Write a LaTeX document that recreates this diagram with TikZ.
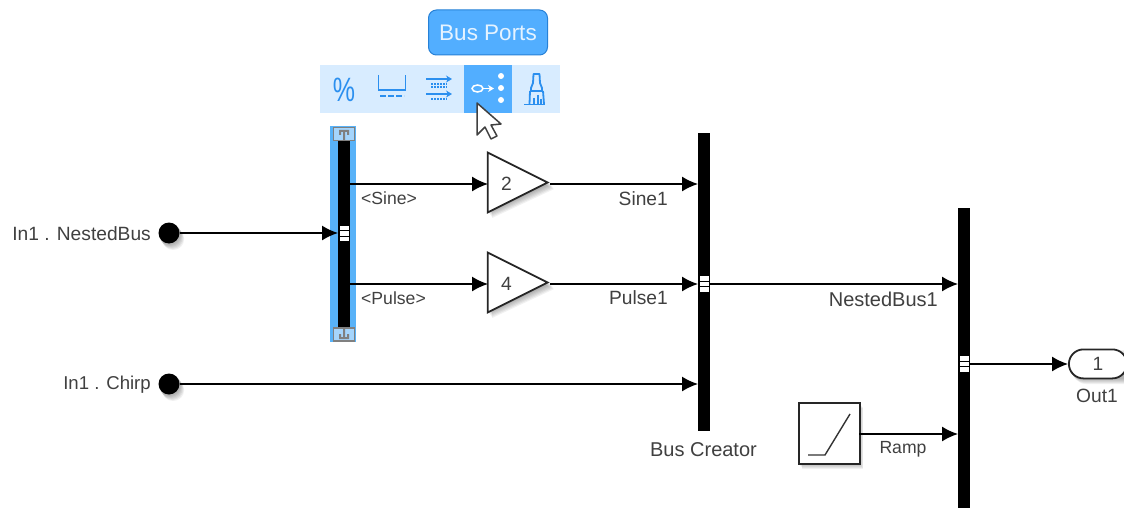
\documentclass[tikz,border=0pt]{standalone}
\usepackage{fontspec}
\setmainfont{Liberation Sans}
\usetikzlibrary{arrows.meta,shapes.geometric}
\definecolor{selblue}{HTML}{58B2F8}
\definecolor{barlight}{HTML}{D8ECFF}
\definecolor{barsel}{HTML}{52AEFF}
\definecolor{icon}{HTML}{2B8FEF}
\definecolor{txt}{HTML}{404040}
\tikzset{
  wire/.style={draw=black,line width=1.5pt,-{Latex[length=16pt,width=15pt]}},
  lbl/.style={font=\fontsize{19.2}{22}\selectfont,text=txt,inner sep=0pt},
  lblsmall/.style={lbl,font=\fontsize{17.6}{20}\selectfont},
  lblbig/.style={lbl,font=\fontsize{20}{22}\selectfont},
  busbar/.style={fill=black,draw=none,inner sep=0pt,minimum width=12pt},
  portmark/.style={fill=white,draw=none,inner sep=0pt,minimum width=9pt,minimum height=4.5pt},
  dotport/.style={circle,fill=black,draw=none,inner sep=0pt,minimum size=21pt},
  soft/.style={fill=black,draw=none,fill opacity=0.055},
  iconline/.style={draw=icon,line width=1.8pt},
  iconw/.style={draw=white,line width=1.8pt},
  handle/.style={draw=gray,fill=barlight!60!selblue,line width=1.5pt,inner sep=0pt,minimum width=21pt,minimum height=13pt},
  gainblock/.style={draw=black!85,line width=1.8pt,fill=white,isosceles triangle,isosceles triangle stretches,inner sep=0pt,minimum width=60pt,minimum height=60pt,anchor=apex}
}
\begin{document}
\begin{tikzpicture}[x=1pt,y=-1pt]
\useasboundingbox (0,0) rectangle (1124,508);
\fill[white] (0,0) rectangle (1124,508);
% toolbar
\node[draw=none,fill=barlight,inner sep=0pt,minimum width=240pt,minimum height=48pt,anchor=north west] (toolbar) at (320,65) {};
\node[draw=none,fill=barsel,inner sep=0pt,minimum width=48pt,minimum height=48pt,anchor=north west] (toolsel) at (464,65) {};
\node[draw=icon!90!black,line width=1pt,fill=barsel,rounded corners=8pt,inner sep=0pt,minimum width=119pt,minimum height=45pt,text=white!85!barsel,font=\fontsize{22.5}{25}\selectfont] (tip) at (488,32.5) {\raisebox{-1.5pt}{Bus Ports}};
\node[text=icon,inner sep=0pt,font=\fontsize{25}{28}\selectfont,yscale=1.35] (pct) at (344,90) {\%};
\draw[iconline] (378.5,75) -- (378.5,90) -- (405.5,90) -- (405.5,75);
\draw[iconline,line width=2.6pt,dash pattern=on 6pt off 2pt] (380,96) -- (404,96);
\draw[iconline,line width=1.4pt,-{Stealth[length=6pt,width=7pt]}] (426,79) -- (452,79);
\draw[iconline,line width=1.4pt,-{Stealth[length=6pt,width=7pt]}] (426,94) -- (452,94);
\draw[iconline,line width=1.2pt,dash pattern=on 1.5pt off 1.5pt] (431,84) -- (447,84) (431,87) -- (447,87) (431,99) -- (447,99);
% bus ports icon
\draw[iconw,line width=1.5pt] (477.5,88.5) ellipse (5.5pt and 3.5pt);
\draw[iconw,line width=1.5pt,-{Stealth[length=6pt,width=7pt]}] (483,88.5) -- (494,88.5);
\fill[white] (501,76) circle (3pt) (501,88) circle (3pt) (501,100) circle (3pt);
% brush icon
\draw[iconline,line join=round] (533.5,74) -- (539.5,74) -- (540,83) -- (542,88) -- (542,91) -- (531,91) -- (531,88) -- (533,83) -- cycle;
\draw[iconline,line join=round] (530,91) -- (529.5,104) (543,91) -- (544,104);
\draw[iconline,line width=1.5pt] (534,98) -- (534,104) (538,95) -- (538,104) (541,99) -- (541,104);
\draw[iconline] (524,104.5) -- (545,104.5);
% selection highlight
\node[fill=selblue,draw=none,inner sep=0pt,minimum width=26pt,minimum height=216pt,anchor=north west] (selhl) at (330,126) {};
\node[busbar,minimum height=187pt,anchor=north west] (sel) at (338,141) {};
\node[handle] (htop) at (344,134) {};
\node[handle] (hbot) at (344,334.5) {};
\fill[gray] (339,130) rectangle (349,132) (343,130) rectangle (345,140) (339,130) rectangle (341,135) (347,130) rectangle (349,135);
\fill[gray] (339,337) rectangle (349,339) (343,329) rectangle (345,339) (339,334) rectangle (341,339) (347,334) rectangle (349,339);
% bus creator and third bar
\node[busbar,minimum height=298pt,anchor=north west] (bc) at (698,133) {};
\node[busbar,minimum height=300pt,anchor=north west] (bc2) at (958,208) {};
\foreach \p/\xx/\yy in {a/344/233.5,b/704/284,c/964/364}{
  \node[portmark] (\p1) at (\xx,\yy-5.5) {};
  \node[portmark] (\p2) at (\xx,\yy) {};
  \node[portmark] (\p3) at (\xx,\yy+5.5) {};
}
% shadows
\foreach \d in {1,2,3,4,5,6}{
  \fill[soft] (169+.7*\d,233+\d) circle (11pt) (169+.7*\d,384+\d) circle (11pt);
  \fill[soft] (798+.7*\d,402+\d) rectangle (859+.7*\d,463+\d);
  \fill[soft] (488+.7*\d,152+\d) -- (550+.7*\d,183+\d) -- (488+.7*\d,212+\d) -- cycle;
  \fill[soft] (488+.7*\d,252+\d) -- (550+.7*\d,283+\d) -- (488+.7*\d,312+\d) -- cycle;
  \fill[soft,rounded corners=14pt] (1068+.7*\d,349+\d) rectangle (1140,378+\d);
}
% in ports
\node[dotport] (in1) at (169,233) {};
\node[dotport] (in2) at (169,384) {};
\node[lbl,anchor=east] (in1l) at (151,234) {In1 . NestedBus};
\node[lbl,anchor=east,font=\fontsize{18.6}{22}\selectfont] (in2l) at (151,385) {In1 . Chirp};
% gains
\coordinate (g1in) at (488,184); \coordinate (g1out) at (550,184);
\coordinate (g2in) at (488,284); \coordinate (g2out) at (550,284);
\node[gainblock] (g1) at (550,182.5) {};
\node[gainblock] (g2) at (550,282.5) {};
\node[lbl] (g1t) at (506.5,184) {2};
\node[lbl] (g2t) at (506.5,284) {4};
% ramp
\node[draw=black!85,line width=1.8pt,fill=white,inner sep=0pt,minimum size=61pt,anchor=north west] (ramp) at (798,402) {};
\coordinate (rampout) at (859,434);
\draw[line width=1.4pt,draw=black!80] (808,455) -- (825,455) -- (850,414);
% out port
\begin{scope}
\clip (1060,340) rectangle (1124,385);
\node[draw=black!85,line width=1.8pt,fill=white,rounded corners=14.5pt,inner sep=0pt,minimum width=58pt,minimum height=29pt,anchor=north west] (out) at (1068,348.5) {};
\end{scope}
\node[lbl] (outn) at (1098,364) {1};
% connectors
\draw[wire] (in1) -- (sel.west|-in1);
\draw[wire] (in2) -- (bc.west|-in2);
\draw[wire] (sel.east|-g1in) -- (g1in);
\draw[wire] (sel.east|-g2in) -- (g2in);
\draw[wire] (g1out) -- (bc.west|-g1out);
\draw[wire] (g2out) -- (bc.west|-g2out);
\draw[wire] (bc.east|-g2out) -- (bc2.west|-g2out);
\draw[wire] (rampout) -- (bc2.west|-rampout);
\draw[wire] (bc2.east|-outn) -- (out.west|-outn);
% labels
\node[lblsmall,anchor=west] (sine) at (361,198) {<Sine>};
\node[lblsmall,anchor=west] (pulse) at (361,298) {<Pulse>};
\node[lbl,anchor=east] (sine1) at (668,199) {Sine1};
\node[lbl,anchor=east] (pulse1) at (668,298) {Pulse1};
\node[lblbig,anchor=east] (nb1) at (938,299) {NestedBus1};
\node[lblsmall] (rampl) at (903,449) {Ramp};
\node[lbl] (out1) at (1097,396) {Out1};
\node[lblbig] (bcl) at (703.5,450) {Bus Creator};
% cursor
\draw[fill=white,draw=black!75,line width=1.5pt,line join=round] (477,103) -- (477,135) -- (485,127) -- (491,139) -- (497,136) -- (491,125) -- (501,124) -- cycle;
\end{tikzpicture}
\end{document}
